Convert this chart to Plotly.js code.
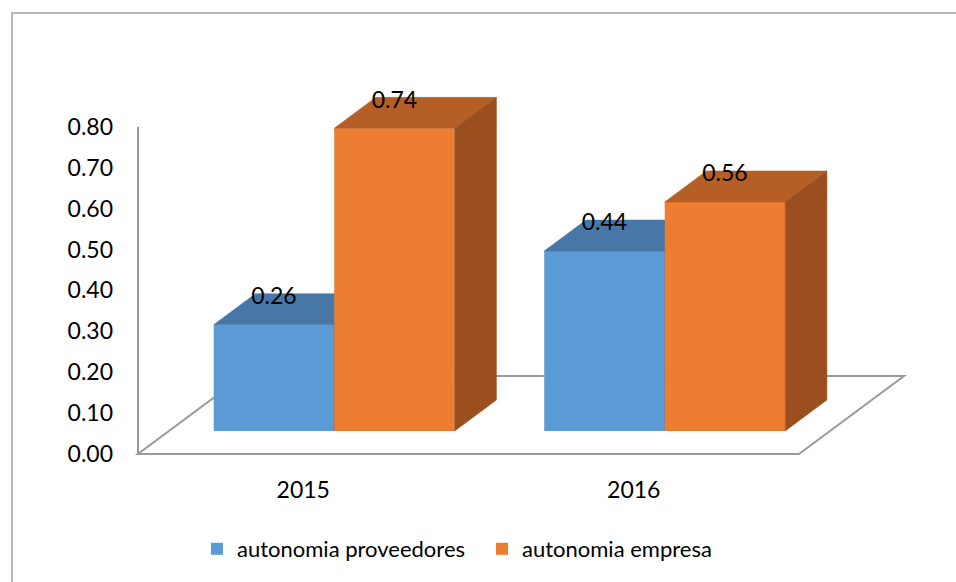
<!DOCTYPE html>
<html><head><meta charset="utf-8">
<script src="https://cdn.plot.ly/plotly-3.0.1.min.js"></script>
<style>html,body{margin:0;padding:0;background:#fff}#chart{width:956px;height:582px}</style>
</head><body><div id="chart"></div>
<script>
// ---- data ----
const categories = ['2015', '2016'];
const seriesNames = ['autonomia proveedores', 'autonomia empresa'];
const proveedores = [0.26, 0.44];
const empresa = [0.74, 0.56];
const yTicks = [0, 0.1, 0.2, 0.3, 0.4, 0.5, 0.6, 0.7, 0.8];
const seriesValues = [proveedores, empresa];

// ---- style ----
const frontColors = ['#5B9BD5', '#ED7D31'];
const topColors = ['#4677A6', '#B55E25'];
const sideColors = ['#3B6891', '#9B4F1E'];
const FONT = 'Lato, "Open Sans", sans-serif';
const TXT = '#000000';

// ---- geometry (axis units) ----
const W = 956, H = 582;
const OX = 138, OY = 454;          // pixel of the floor's front-left corner
const PXX = 330.5, PXY = 409;      // pixels per category / per unit value
const M = {l: 120, r: 8, t: 50, b: 110};
const xRange = [(M.l - OX) / PXX, (W - M.r - OX) / PXX];
const yRange = [(OY - (H - M.b)) / PXY, (OY - M.t) / PXY];
const floorDX = 105 / PXX, floorDY = 78 / PXY;
const f0 = 0.295, f1 = 0.692;      // bar depth position inside the floor depth
const xoff = f0 * floorDX, yoff = f0 * floorDY;
const ddx = (f1 - f0) * floorDX, ddy = (f1 - f0) * floorDY;
const barW = 0.3646, gapHalf = (1 - 2 * barW) / 2;

const traces = [];
const labelX = [], labelY = [], labelT = [];
seriesValues.forEach((vals, s) => {
  const xa = s === 0 ? 'x' : 'x2', ya = s === 0 ? 'y' : 'y2';
  const off = gapHalf + s * barW + xoff;
  traces.push({
    type: 'bar', name: seriesNames[s], xaxis: xa, yaxis: ya,
    x: categories.map((c, i) => i), y: vals, base: yoff,
    offset: off, width: barW,
    marker: {color: frontColors[s], line: {width: 0}},
    hoverinfo: 'skip', showlegend: true
  });
  vals.forEach((v, i) => {
    const L = i + off, R = L + barW, B = yoff, T = yoff + v;
    traces.push({
      type: 'scatter', mode: 'lines', xaxis: xa, yaxis: ya, showlegend: false, hoverinfo: 'skip',
      x: [L, R, R + ddx, L + ddx, L], y: [T, T, T + ddy, T + ddy, T],
      fill: 'toself', fillcolor: topColors[s], line: {color: topColors[s], width: 0.5}
    });
    traces.push({
      type: 'scatter', mode: 'lines', xaxis: xa, yaxis: ya, showlegend: false, hoverinfo: 'skip',
      x: [R, R + ddx, R + ddx, R, R], y: [B, B + ddy, T + ddy, T, B],
      fill: 'toself', fillcolor: sideColors[s], line: {color: sideColors[s], width: 0.5}
    });
    labelX.push(L + barW / 2); labelY.push(T + 0.85 * ddy); labelT.push(v.toFixed(2));
  });
});
traces.push({
  type: 'scatter', mode: 'text', xaxis: 'x2', yaxis: 'y2', showlegend: false, hoverinfo: 'skip',
  x: labelX, y: labelY, text: labelT, textposition: 'middle center', cliponaxis: false,
  textfont: {family: FONT, size: 23, color: TXT}
});

const nCat = categories.length;
const plotW = W - M.l - M.r, plotH = H - M.t - M.b;
const layout = {
  width: W, height: H, autosize: false,
  margin: {l: M.l, r: M.r, t: M.t, b: M.b, pad: 0},
  paper_bgcolor: '#fff', plot_bgcolor: 'rgba(0,0,0,0)',
  font: {family: FONT, size: 22, color: TXT},
  barmode: 'overlay',
  xaxis: {range: xRange, tickvals: categories.map((c, i) => i + 0.5), ticktext: categories,
    showgrid: false, zeroline: false, showline: false, ticks: '', ticklabelstandoff: 2,
    tickfont: {family: FONT, size: 23, color: TXT}, fixedrange: true},
  yaxis: {range: yRange, tickvals: yTicks, tickformat: '.2f',
    showgrid: false, zeroline: false, showline: false, ticks: '', ticklabelstandoff: 6,
    tickfont: {family: FONT, size: 23, color: TXT}, fixedrange: true},
  xaxis2: {overlaying: 'x', range: xRange, visible: false, fixedrange: true},
  yaxis2: {overlaying: 'y', range: yRange, visible: false, fixedrange: true},
  legend: {orientation: 'h', x: (482 - M.l) / plotW, xanchor: 'center',
    y: (OY + 18 - 549) / plotH, yanchor: 'middle', font: {family: FONT, size: 22, color: TXT},
    entrywidth: 240, entrywidthmode: 'pixels',
    bgcolor: 'rgba(0,0,0,0)'},
  shapes: [
    {type: 'path', xref: 'x', yref: 'y', layer: 'below',
      path: `M0,0 L${nCat},0 L${nCat + floorDX},${floorDY} L${floorDX},${floorDY} Z`,
      line: {color: '#9a9a9a', width: 2}},
    {type: 'line', xref: 'x', yref: 'y', layer: 'below', x0: 0, x1: 0, y0: 0, y1: yTicks[yTicks.length - 1],
      line: {color: '#9a9a9a', width: 2}},
    {type: 'rect', xref: 'paper', yref: 'paper', layer: 'above',
      x0: (12 - M.l) / plotW, x1: (W + 10 - M.l) / plotW,
      y0: (H - M.b - (H + 10)) / plotH, y1: (H - M.b - 13) / plotH,
      line: {color: '#a0a0a0', width: 1.5}, fillcolor: 'rgba(0,0,0,0)'}
  ]
};
Plotly.newPlot('chart', traces, layout, {displayModeBar: false, staticPlot: true});
</script></body></html>
